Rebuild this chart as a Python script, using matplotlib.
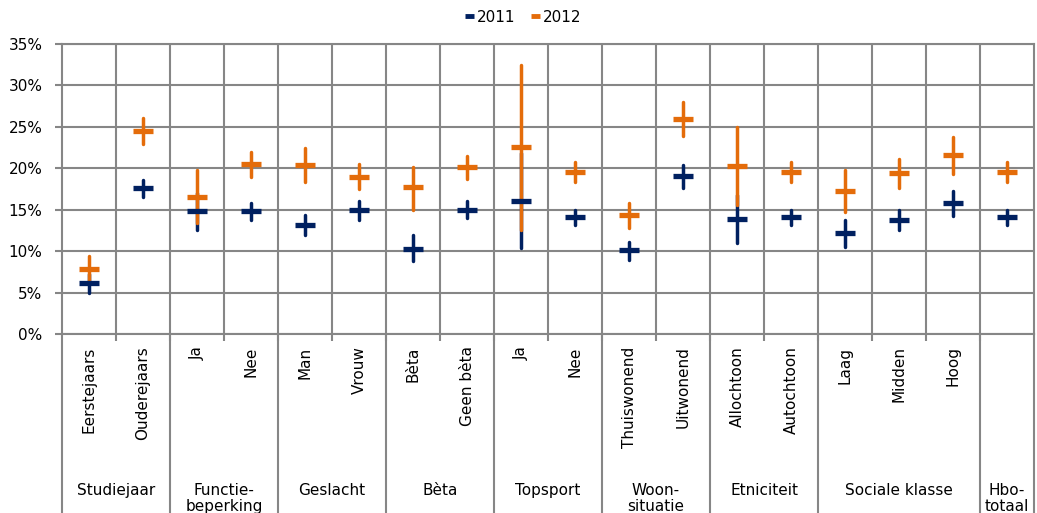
import matplotlib.pyplot as plt
from matplotlib.lines import Line2D
from matplotlib.ticker import FixedLocator, PercentFormatter
import matplotlib.transforms as mtransforms

# Categories and groups
categories = ["Eerstejaars", "Ouderejaars", "Ja", "Nee", "Man", "Vrouw",
              "Bèta", "Geen bèta", "Ja", "Nee", "Thuiswonend", "Uitwonend",
              "Allochtoon", "Autochtoon", "Laag", "Midden", "Hoog", ""]
groups = ["Studiejaar", "Functie-\nbeperking", "Geslacht", "Bèta", "Topsport",
          "Woon-\nsituatie", "Etniciteit", "Sociale klasse", "Hbo-\ntotaal"]
group_sizes = [2, 2, 2, 2, 2, 2, 2, 3, 1]

# 2011: estimate with lower and upper bound (%)
est_2011 = [6.1, 17.6, 14.8, 14.8, 13.2, 15.0, 10.3, 15.0, 16.1, 14.1,
            10.1, 19.1, 13.9, 14.1, 12.2, 13.8, 15.8, 14.1]
low_2011 = [5.0, 16.5, 12.6, 13.8, 11.9, 13.8, 8.8, 14.0, 10.4, 13.1,
            8.9, 17.6, 11.0, 13.2, 10.5, 12.6, 14.2, 13.2]
high_2011 = [7.2, 18.6, 17.0, 15.8, 14.4, 16.1, 11.9, 16.0, 21.8, 15.0,
             11.1, 20.4, 16.8, 15.0, 13.8, 15.0, 17.3, 15.0]

# 2012: estimate with lower and upper bound (%)
est_2012 = [7.9, 24.5, 16.5, 20.5, 20.4, 19.0, 17.7, 20.2, 22.6, 19.6,
            14.4, 26.0, 20.3, 19.6, 17.3, 19.4, 21.6, 19.6]
low_2012 = [6.3, 22.9, 13.4, 18.9, 18.3, 17.5, 15.0, 18.7, 12.6, 18.3,
            12.8, 23.9, 15.6, 18.3, 14.7, 17.6, 19.3, 18.3]
high_2012 = [9.4, 26.1, 19.8, 22.0, 22.5, 20.5, 20.2, 21.5, 32.5, 20.7,
             15.8, 28.0, 25.0, 20.8, 19.8, 21.1, 23.8, 20.8]

blue = "#002060"
orange = "#E46C0A"
grey = "#868686"

plt.rcParams["font.family"] = "DejaVu Sans"
plt.rcParams["font.size"] = 11

W, H = 1037, 513
fig = plt.figure(figsize=(W / 100, H / 100), dpi=100)
ax = fig.add_axes([62 / W, (H - 334) / H, (1034 - 62) / W, (334 - 44) / H])

x = list(range(len(categories)))

# confidence intervals first, then the estimates on top
ax.vlines(x, low_2011, high_2011, color=blue, lw=2.5, zorder=3, capstyle="round")
ax.vlines(x, low_2012, high_2012, color=orange, lw=2.5, zorder=4, capstyle="round")
ax.plot(x, est_2011, ls="none", marker="_", ms=14, mew=3.8, color=blue, zorder=5)
ax.plot(x, est_2012, ls="none", marker="_", ms=14, mew=3.8, color=orange, zorder=6)

ax.set_xlim(-0.5, len(categories) - 0.5)
ax.set_ylim(0, 35)
ax.set_yticks(range(0, 36, 5))
ax.yaxis.set_major_formatter(PercentFormatter(decimals=0))
ax.tick_params(axis="y", length=5, width=1.5, color=grey, pad=9, labelsize=11)

ax.set_xticks(x)
ax.set_xticklabels(categories, rotation=90, va="top", ha="center")
ax.tick_params(axis="x", which="major", length=0, pad=9, labelsize=11)
ax.xaxis.set_minor_locator(FixedLocator([i + 0.5 for i in range(len(categories) - 1)]))
ax.tick_params(axis="x", which="minor", length=5, width=1.5, color=grey)

ax.grid(True, axis="y", which="major", color=grey, lw=1.5, zorder=1)
ax.grid(True, axis="x", which="minor", color=grey, lw=1.5, zorder=1)
ax.set_axisbelow(True)
for s in ax.spines.values():
    s.set_color(grey)
    s.set_linewidth(1.5)

# group separators and group names below the axis
trans = mtransforms.blended_transform_factory(ax.transData, fig.transFigure)
bottom_ax = (H - 334) / H
start = 0
bounds = [-0.5]
for name, n in zip(groups, group_sizes):
    center = start + (n - 1) / 2
    ax.text(center, 1 - 483 / H, name, transform=trans, ha="center", va="top",
            fontsize=11, linespacing=1.05)
    start += n
    bounds.append(start - 0.5)
for b in bounds:
    ax.add_line(Line2D([b, b], [0, bottom_ax], transform=trans, color=grey,
                       lw=1.5, clip_on=False))

handles = [Line2D([], [], color=blue, lw=3.5, solid_capstyle="butt"),
           Line2D([], [], color=orange, lw=3.5, solid_capstyle="butt")]
fig.legend(handles, ["2011", "2012"], loc="center", ncol=2,
           bbox_to_anchor=(523 / W, 1 - 17 / H), frameon=False,
           handlelength=0.6, handletextpad=0.2, columnspacing=1.0, fontsize=11)

fig.savefig("out.png", dpi=100)
